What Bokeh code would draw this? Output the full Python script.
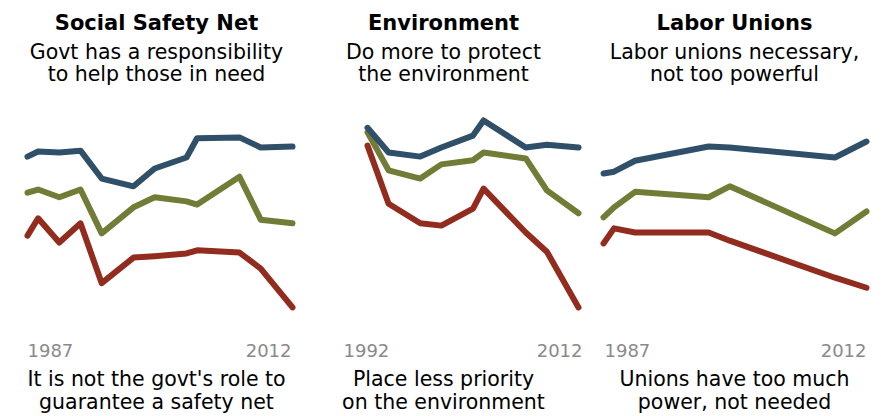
from bokeh.plotting import figure
from bokeh.layouts import row
from bokeh.models import Range1d
from bokeh.core.properties import value
from bokeh.embed import file_html
from bokeh.resources import INLINE

# ---------------- data ----------------
safety_years = [1987, 1988, 1990, 1992, 1994, 1997, 1999, 2002, 2003, 2007, 2009, 2012]
safety_dem = [72.8, 73.9, 73.7, 74.1, 68.0, 66.3, 70.2, 72.6, 76.8, 77.0, 74.8, 75.0]
safety_ind = [64.9, 65.6, 63.9, 65.6, 56.0, 61.7, 63.9, 63.0, 62.3, 68.4, 59.0, 58.2]
safety_rep = [55.5, 59.3, 54.0, 58.2, 45.1, 50.7, 51.0, 51.6, 52.3, 51.8, 48.3, 39.8]

env_years = [1992, 1994, 1997, 1999, 2002, 2003, 2007, 2009, 2012]
env_dem = [79.1, 73.7, 72.8, 74.8, 77.4, 80.7, 74.8, 75.4, 74.8]
env_ind = [78.1, 69.8, 68.0, 71.1, 72.0, 73.7, 72.4, 65.4, 60.4]
env_rep = [75.2, 62.5, 58.2, 57.7, 61.4, 65.8, 56.2, 52.0, 39.8]

union_years = [1987, 1988, 1990, 1997, 1999, 2009, 2012]
union_dem = [69.1, 69.5, 71.9, 75.0, 74.8, 72.6, 76.1]
union_ind = [59.5, 61.7, 65.1, 63.9, 66.3, 56.0, 60.8]
union_rep = [53.8, 57.1, 56.2, 56.2, 54.4, 46.3, 44.1]

titles = ["Social Safety Net", "Environment", "Labor Unions"]
top_texts = [["Govt has a responsibility", "to help those in need"],
             ["Do more to protect", "the environment"],
             ["Labor unions necessary,", "not too powerful"]]
bottom_texts = [["It is not the govt's role to", "guarantee a safety net"],
                ["Place less priority", "on the environment"],
                ["Unions have too much", "power, not needed"]]
start_labels = ["1987", "1992", "1987"]
end_labels = ["2012", "2012", "2012"]

# ---------------- style ----------------
DEM = "#2F5068"
IND = "#717C36"
REP = "#922C1F"
GRAY = "#8a8a8a"
FONT = value("DejaVu Sans")
H = 416
PX_PER_PT = 4.57
Y_AT_ZERO = 488.8  # page px where value 0 would lie


def make_panel(fig_left, fig_w, x0_px, year0, px_per_year, years, dem, ind, rep, idx,
               center_px, start_px, end_px):
    xs = year0 - (x0_px - fig_left) / px_per_year
    xe = xs + fig_w / px_per_year
    ys = (Y_AT_ZERO - H) / PX_PER_PT
    ye = Y_AT_ZERO / PX_PER_PT
    p = figure(width=fig_w, height=H, output_backend="svg", toolbar_location=None,
               x_range=Range1d(xs, xe), y_range=Range1d(ys, ye),
               min_border=0, min_border_left=0, min_border_right=0,
               min_border_top=0, min_border_bottom=0)
    p.axis.visible = False
    p.grid.visible = False
    p.outline_line_color = None
    p.background_fill_color = "white"
    p.border_fill_color = "white"

    for ser, col in ((rep, REP), (ind, IND), (dem, DEM)):
        p.line(years, ser, line_color=col, line_width=6,
               line_cap="round", line_join="round")

    def X(px):
        return xs + (px - fig_left) / px_per_year

    def Y(py):
        return (Y_AT_ZERO - py) / PX_PER_PT

    cx = X(center_px)
    p.text([cx], [Y(22)], text=[titles[idx]], text_font=FONT, text_font_size="21px",
           text_font_style="bold", text_align="center", text_baseline="alphabetic",
           text_color="black")
    p.text([cx, cx], [Y(51), Y(73)], text=top_texts[idx], text_font=FONT,
           text_font_size="20.5px", text_align="center", text_baseline="alphabetic",
           text_color="black")
    p.text([X(start_px)], [Y(350)], text=[start_labels[idx]], text_font=FONT,
           text_font_size="18px", text_align="left", text_baseline="alphabetic",
           text_color=GRAY)
    p.text([X(end_px)], [Y(350)], text=[end_labels[idx]], text_font=FONT,
           text_font_size="18px", text_align="right", text_baseline="alphabetic",
           text_color=GRAY)
    p.text([cx, cx], [Y(378), Y(401)], text=bottom_texts[idx], text_font=FONT,
           text_font_size="20.5px", text_align="center", text_baseline="alphabetic",
           text_color="black")
    return p


p1 = make_panel(0, 330, 27, 1987, 10.6, safety_years, safety_dem, safety_ind, safety_rep,
                0, 156, 27, 291)
p2 = make_panel(330, 261, 367, 1992, 10.55, env_years, env_dem, env_ind, env_rep,
                1, 443, 343, 582)
p3 = make_panel(591, 290, 603, 1987, 10.52, union_years, union_dem, union_ind, union_rep,
                2, 734, 604, 866)

layout = row(p1, p2, p3, spacing=0)
open("out.html", "w").write(file_html(layout, INLINE))
